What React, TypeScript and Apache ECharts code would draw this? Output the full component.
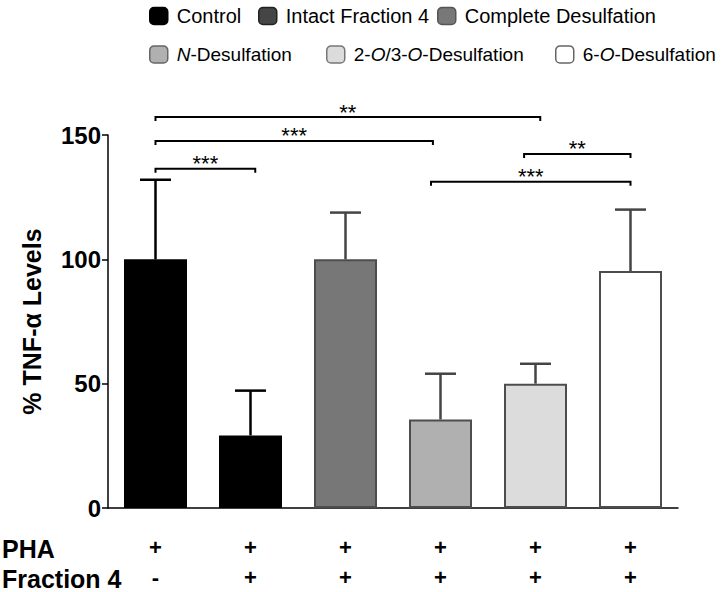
import React, { useEffect, useRef } from "react";
import * as echarts from "echarts";

const categories = [
  "Control",
  "Intact Fraction 4",
  "Complete Desulfation",
  "N-Desulfation",
  "2-O/3-O-Desulfation",
  "6-O-Desulfation",
];
const means = [100, 29.2, 100, 35.6, 50, 95.3];
const errTops = [132, 47.2, 118.8, 54, 58, 120];
const phaRow = ["+", "+", "+", "+", "+", "+"];
const fractionRow = ["-", "+", "+", "+", "+", "+"];
const rowLabels = ["PHA", "Fraction 4"];
const yAxisName = "% TNF-\u03b1 Levels";
// significance brackets: [start (category units), end (category units), height]
const bracketSpans = [
  [0, 4.05, 157.2],
  [0, 2.92, 147.6],
  [0, 1.05, 136.4],
  [3.88, 5, 142.4],
  [2.9, 5, 131.2],
];
const bracketLabels = ["**", "***", "***", "**", "***"];

const legendRich: Record<string, string> = {
  "N-Desulfation": "{it|N}-Desulfation",
  "2-O/3-O-Desulfation": "2-{it|O}/3-{it|O}-Desulfation",
  "6-O-Desulfation": "6-{it|O}-Desulfation",
};

const barFill = ["#000000", "#000000", "#777777", "#b0b0b0", "#dcdcdc", "#ffffff"];
const barBorder = ["#000000", "#000000", "#4d4d4d", "#4d4d4d", "#4d4d4d", "#4d4d4d"];
const legendFill = ["#000000", "#454545", "#787878", "#b0b0b0", "#dcdcdc", "#ffffff"];
const legendBorder = ["#000000", "#222222", "#555555", "#666666", "#777777", "#666666"];
const errColor = ["#000000", "#000000", "#444444", "#444444", "#444444", "#444444"];
const legendPos = [
  [149, 6, 20],
  [258, 6, 20],
  [437, 6, 20],
  [149, 45, 19],
  [326, 45, 19],
  [555, 45, 19],
];

const FONT = "'Liberation Sans', Arial, Helvetica, sans-serif";

export default function App() {
  const ref = useRef<HTMLDivElement>(null);
  useEffect(() => {
    if (!ref.current) return;
    const chart = echarts.init(ref.current, undefined, { renderer: "svg" });
    const gridLeft = 108;
    const gridTop = 135;
    const gridBottom = 82;
    const gridRight = 44;

    const barSeries = categories.map((name, i) => ({
      name,
      type: "bar",
      barWidth: 63,
      barGap: "-100%",
      xAxisIndex: 0,
      yAxisIndex: 0,
      data: categories.map((_, j) => (j === i ? means[i] : "-")),
      itemStyle: {
        color: barFill[i],
        borderColor: barBorder[i],
        borderWidth: i < 2 ? 0 : 2,
      },
      z: 2,
    }));

    const errSeries = {
      type: "custom",
      xAxisIndex: 0,
      yAxisIndex: 0,
      z: 3,
      data: categories.map((_, i) => [i, means[i], errTops[i]]),
      renderItem: (params: any, api: any) => {
        const i = api.value(0);
        const p0 = api.coord([i, api.value(1)]);
        const p1 = api.coord([i, api.value(2)]);
        const c = errColor[params.dataIndex];
        const half = 15.5;
        return {
          type: "group",
          children: [
            {
              type: "line",
              shape: { x1: p0[0], y1: p0[1], x2: p1[0], y2: p1[1] },
              style: { stroke: c, lineWidth: 2.5 },
            },
            {
              type: "line",
              shape: { x1: p1[0] - half, y1: p1[1], x2: p1[0] + half, y2: p1[1] },
              style: { stroke: c, lineWidth: 2.5 },
            },
          ],
        };
      },
    };

    const bracketSeries = {
      type: "custom",
      xAxisIndex: 1,
      yAxisIndex: 0,
      z: 4,
      clip: false,
      data: bracketSpans,
      renderItem: (params: any, api: any) => {
        const a = api.coord([api.value(0), api.value(2)]);
        const b = api.coord([api.value(1), api.value(2)]);
        const y = a[1];
        return {
          type: "group",
          children: [
            {
              type: "polyline",
              shape: {
                points: [
                  [a[0], y + 4],
                  [a[0], y],
                  [b[0], y],
                  [b[0], y + 4],
                ],
              },
              style: { stroke: "#000", lineWidth: 2, fill: null },
            },
            {
              type: "text",
              x: (a[0] + b[0]) / 2,
              y: y - 5,
              style: {
                text: bracketLabels[params.dataIndex],
                fontSize: 22,
                fontFamily: FONT,
                fill: "#000",
                align: "center",
                verticalAlign: "middle",
              },
            },
          ],
        };
      },
    };

    const legends = categories.map((name, i) => ({
      show: true,
      left: legendPos[i][0],
      top: legendPos[i][1],
      padding: 0,
      itemWidth: 18,
      itemHeight: 17,
      icon: "roundRect",
      selectedMode: false,
      data: [
        {
          name,
          itemStyle: {
            color: legendFill[i],
            borderColor: legendBorder[i],
            borderWidth: 1.5,
          },
        },
      ],
      formatter: (n: string) => legendRich[n] || n,
      textStyle: {
        fontSize: legendPos[i][2],
        fontFamily: FONT,
        color: "#000",
        padding: [0, 0, 0, 4],
        rich: {
          it: { fontStyle: "italic", fontSize: legendPos[i][2], fontFamily: FONT, color: "#000" },
        },
      },
    }));

    chart.setOption({
      animation: false,
      backgroundColor: "#ffffff",
      legend: legends,
      grid: { left: gridLeft, right: gridRight, top: gridTop, bottom: gridBottom },
      xAxis: [
        {
          type: "category",
          data: categories,
          axisLine: { lineStyle: { color: "#000", width: 1.5 } },
          axisTick: { alignWithLabel: true, length: 7, lineStyle: { color: "#000", width: 1.5 } },
          axisLabel: {
            formatter: (_: string, i: number) => `${phaRow[i]}\n${fractionRow[i]}`,
            fontSize: 22,
            fontWeight: "bold",
            fontFamily: FONT,
            color: "#000",
            lineHeight: 30,
            margin: 24,
            interval: 0,
          },
        },
        {
          type: "value",
          show: false,
          min: -0.5,
          max: 5.5,
        },
      ],
      yAxis: {
        type: "value",
        min: 0,
        max: 150,
        interval: 50,
        name: yAxisName,
        nameLocation: "middle",
        nameGap: 64,
        nameTextStyle: { fontSize: 25, fontWeight: "bold", fontFamily: FONT, color: "#000" },
        axisLine: { show: true, onZero: false, lineStyle: { color: "#000", width: 1.5 } },
        axisTick: { show: true, length: 6, lineStyle: { color: "#000", width: 1.5 } },
        axisLabel: {
          fontSize: 24,
          fontWeight: "bold",
          fontFamily: FONT,
          color: "#000",
          margin: 7,
        },
        splitLine: { show: false },
      },
      graphic: rowLabels.map((t, i) => ({
        type: "text",
        left: 2,
        top: 536 + i * 30,
        style: {
          text: t,
          fontSize: 25,
          fontWeight: "bold",
          fontFamily: FONT,
          fill: "#000",
        },
      })),
      series: [...barSeries, errSeries, bracketSeries],
    });
    return () => chart.dispose();
  }, []);
  return (
    <div
      ref={ref}
      style={{ position: "fixed", left: 0, top: 0, width: 722, height: 592 }}
    />
  );
}
